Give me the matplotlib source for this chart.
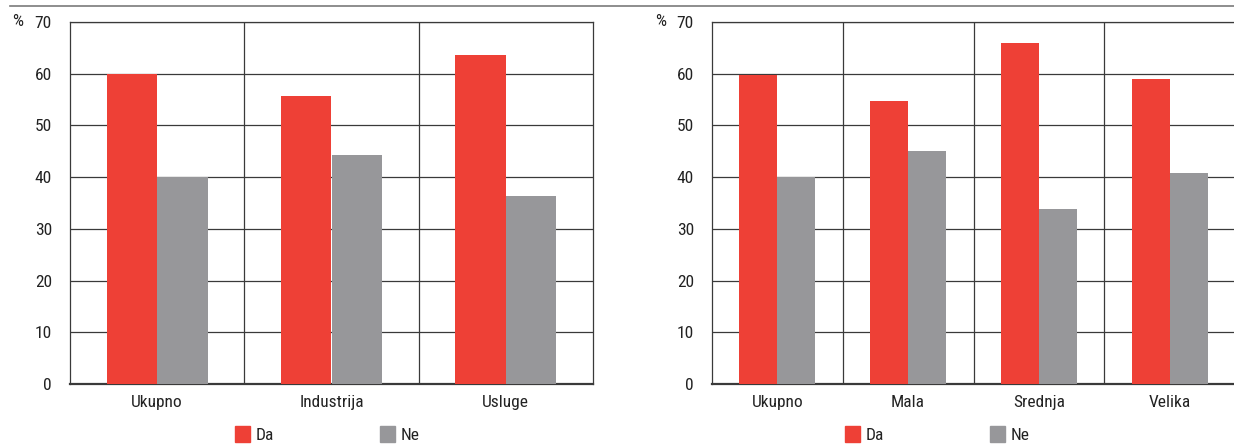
import matplotlib.pyplot as plt
import matplotlib.font_manager as fm
import numpy as np

W, H = 1234, 445

sektori = ['Ukupno', 'Industrija', 'Usluge']
sektori_da = [60.0, 55.7, 63.6]
sektori_ne = [40.0, 44.3, 36.4]

velicina = ['Ukupno', 'Mala', 'Srednja', 'Velika']
velicina_da = [59.8, 54.7, 66.0, 59.0]
velicina_ne = [40.0, 45.1, 33.8, 40.8]

red = '#ee4036'
grey = '#97979a'
line = '#3a3a3a'
fs = 12.5

names = {f.name for f in fm.fontManager.ttflist}
narrow = [f for f in ['Liberation Sans Narrow', 'Roboto Condensed', 'Open Sans Condensed'] if f in names]
plt.rcParams['font.family'] = narrow + ['DejaVu Sans']
plt.rcParams['font.stretch'] = 'condensed'
plt.rcParams['font.size'] = fs

fig = plt.figure(figsize=(W / 100, H / 100), dpi=100)


def px(x0, y0, x1, y1):
    return [x0 / W, 1 - y1 / H, (x1 - x0) / W, (y1 - y0) / H]


def panel(rect, cats, da, ne, pct_x, leg_x, right_spine=True):
    ax = fig.add_axes(rect)
    n = len(cats)
    x = np.arange(n)
    bw = 0.29
    ax.bar(x - bw / 2, da, bw, color=red, zorder=3)
    ax.bar(x + bw / 2, ne, bw, color=grey, zorder=3)
    ax.set_xlim(-0.5, n - 0.5)
    ax.set_ylim(0, 70)
    ax.set_yticks(range(0, 71, 10))
    for v in range(10, 71, 10):
        ax.axhline(v, color=line, lw=0.9, zorder=1)
    for i in range(1, n):
        ax.axvline(i - 0.5, color=line, lw=0.9, zorder=1)
    ax.set_xticks(x)
    ax.set_xticklabels(cats)
    ax.tick_params(length=0, pad=8, colors='#222222', labelsize=fs)
    ax.tick_params(axis='y', pad=13)
    for s in ['top', 'left']:
        ax.spines[s].set_color(line)
        ax.spines[s].set_linewidth(0.9)
    ax.spines['bottom'].set_color(line)
    ax.spines['bottom'].set_linewidth(1.6)
    ax.spines['right'].set_visible(right_spine)
    ax.spines['right'].set_color(line)
    ax.spines['right'].set_linewidth(0.9)
    fig.text(pct_x / W, 1 - 22 / H, '%', ha='center', va='center', fontsize=fs, color='#222222')
    # legend squares and labels
    for k, (lab, c) in enumerate([('Da', red), ('Ne', grey)]):
        lx = leg_x + k * 145
        fig.patches.append(plt.Rectangle((lx / W, 1 - 442 / H), 15 / W, 16 / H,
                                         transform=fig.transFigure, color=c))
        fig.text((lx + 21) / W, 1 - 435 / H, lab, ha='left', va='center', fontsize=fs, color='#222222')
    return ax


panel(px(70, 22, 593, 384), sektori, sektori_da, sektori_ne, 18, 235)
panel(px(712, 22, 1235, 384), velicina, velicina_da, velicina_ne, 661, 845, right_spine=False)

# rule across the top
fig.add_artist(plt.Line2D([10 / W, 1], [1 - 6 / H, 1 - 6 / H], transform=fig.transFigure,
                          color='#7a7a7a', lw=1.2))

fig.savefig('out.png', dpi=100)
